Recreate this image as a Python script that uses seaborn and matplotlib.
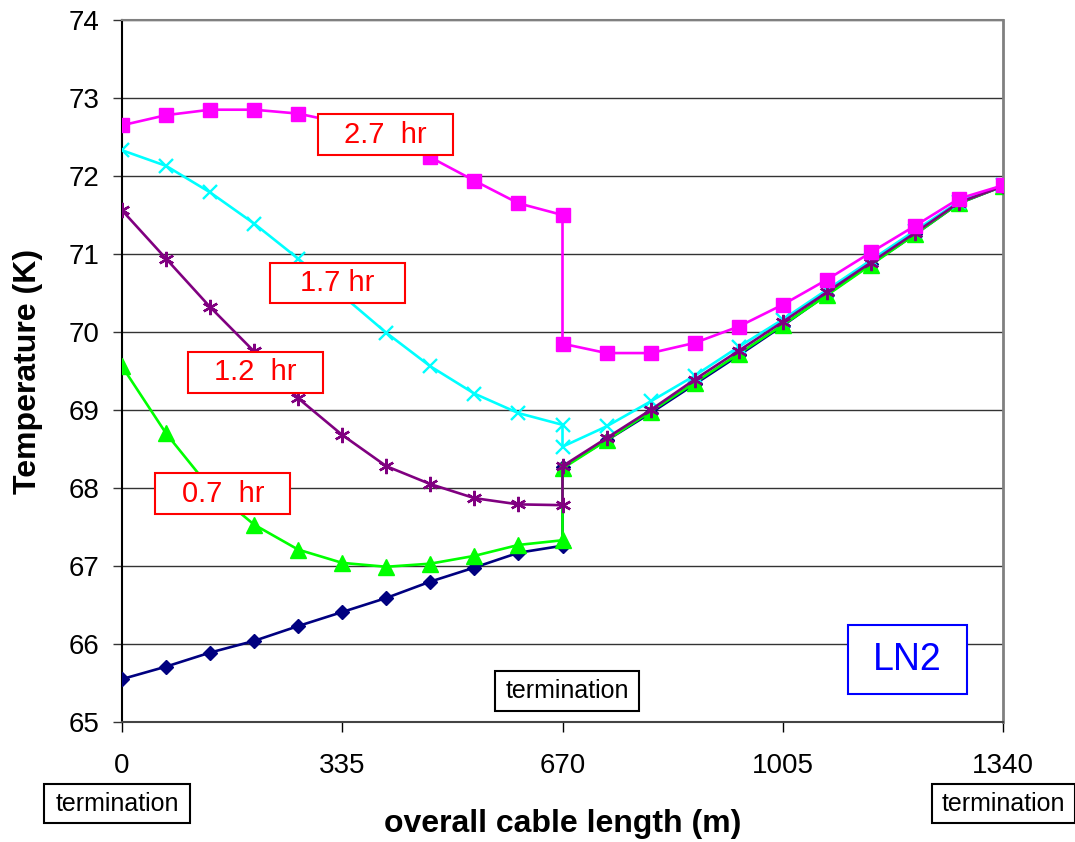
import matplotlib
matplotlib.use("Agg")
import matplotlib.pyplot as plt
from matplotlib.path import Path
import numpy as np
import pandas as pd
import seaborn as sns

sns.set_theme(style="white")
plt.rcParams["font.family"] = ["Liberation Sans", "DejaVu Sans"]

# Position along the cable (m); 670 m appears twice: the mid-cable termination
length_m = [0, 67, 134, 201, 268, 335, 402, 469, 536, 603, 670,
            670, 737, 804, 871, 938, 1005, 1072, 1139, 1206, 1273, 1340]

# LN2 temperature profiles (K)
temp_start = [65.55, 65.71, 65.89, 66.04, 66.23, 66.41, 66.59, 66.80, 66.98, 67.17, 67.26,
              68.27, 68.61, 68.96, 69.33, 69.70, 70.08, 70.48, 70.87, 71.25, 71.65, 71.87]
temp_0p7hr = [69.56, 68.70, 68.00, 67.53, 67.21, 67.04, 66.99, 67.03, 67.13, 67.27, 67.33,
              68.25, 68.61, 68.98, 69.35, 69.72, 70.09, 70.47, 70.86, 71.25, 71.65, 71.87]
temp_1p7hr = [72.33, 72.13, 71.79, 71.39, 70.94, 70.47, 69.99, 69.56, 69.21, 68.96, 68.81,
              68.53, 68.79, 69.11, 69.44, 69.81, 70.16, 70.54, 70.92, 71.30, 71.67, 71.88]
temp_1p2hr = [71.56, 70.94, 70.32, 69.75, 69.15, 68.68, 68.28, 68.05, 67.87, 67.79, 67.78,
              68.28, 68.64, 69.00, 69.39, 69.76, 70.13, 70.51, 70.89, 71.27, 71.66, 71.87]
temp_2p7hr = [72.65, 72.78, 72.85, 72.85, 72.80, 72.68, 72.50, 72.24, 71.94, 71.65, 71.50,
              69.85, 69.73, 69.73, 69.86, 70.07, 70.35, 70.67, 71.02, 71.36, 71.71, 71.88]

x_ticks = [0, 335, 670, 1005, 1340]
y_ticks = [65, 66, 67, 68, 69, 70, 71, 72, 73, 74]

runs = {
    "start": temp_start,
    "0.7 hr": temp_0p7hr,
    "1.7 hr": temp_1p7hr,
    "1.2 hr": temp_1p2hr,
    "2.7 hr": temp_2p7hr,
}
df = pd.concat(
    [pd.DataFrame({"length": length_m, "temp": t, "run": name}) for name, t in runs.items()],
    ignore_index=True,
)

# color, marker, marker size, marker edge width
styles = {
    "start": ("#000080", "D", 7.4, 1.0),
    "0.7 hr": ("#00FF00", "^", 11.0, 1.0),
    "1.7 hr": ("#00FFFF", "x", 10.5, 1.7),
    "1.2 hr": ("#800080", (6, 2, 0), 11.0, 1.7),
    "2.7 hr": ("#FF00FF", "s", 10.0, 1.0),
}

fig = plt.figure(figsize=(10.75, 8.42), dpi=100)
ax = fig.add_axes([122 / 1075, 1 - 722 / 842, 881 / 1075, 702 / 842])

for name, (color, marker, ms, mew) in styles.items():
    sns.lineplot(
        data=df[df["run"] == name], x="length", y="temp",
        estimator=None, sort=False, ax=ax, legend=False,
        color=color, linewidth=1.9, marker=marker, markersize=ms,
        markeredgewidth=mew, markeredgecolor=color, markerfacecolor=color,
        zorder=3,
    )

ax.set_xlim(0, 1340)
ax.set_ylim(65, 74)
ax.set_xticks(x_ticks)
ax.set_yticks(y_ticks)
ax.yaxis.grid(True, color="#333333", linewidth=1.0)
ax.xaxis.grid(False)
ax.set_axisbelow(True)

ax.tick_params(axis="x", direction="out", length=7, width=1, color="black",
               pad=15, labelsize=20, bottom=True, labelcolor="black")
ax.tick_params(axis="y", direction="out", length=6.5, width=1, color="#333333",
               pad=10, labelsize=20, left=True, labelcolor="black")

ax.spines["left"].set_color("black")
ax.spines["left"].set_linewidth(1.5)
ax.spines["bottom"].set_color("#444444")
ax.spines["bottom"].set_linewidth(1.5)
ax.spines["right"].set_color("#808080")
ax.spines["right"].set_linewidth(2.0)
ax.spines["top"].set_color("#808080")
ax.spines["top"].set_linewidth(1.5)

ax.set_xlabel("overall cable length (m)", fontsize=23, fontweight="bold", color="black")
ax.set_ylabel("Temperature (K)", fontsize=23, fontweight="bold", color="black")
ax.xaxis.set_label_coords(0.5, -(809 - 722) / 702)
ax.yaxis.set_label_coords((43 - 122) / 881, 0.5)


def rect_box(padx, pady):
    """Rectangular box style with separate horizontal and vertical padding."""
    def style(x0, y0, width, height, mutation_size):
        px, py = padx * mutation_size, pady * mutation_size
        xa, ya = x0 - px, y0 - py
        xb, yb = x0 + width + px, y0 + height + py
        return Path([(xa, ya), (xb, ya), (xb, yb), (xa, yb), (xa, ya)], closed=True)
    return style


def boxed(x, y, s, color, size, padx, pady, lw=1.5):
    ax.text(x, y, s, color=color, fontsize=size, ha="center", va="center",
            zorder=6, clip_on=False,
            bbox=dict(boxstyle=rect_box(padx, pady), facecolor="white",
                      edgecolor=color, linewidth=lw))


# elapsed-time labels
boxed(400.8, 72.532, "2.7  hr", "#FF0000", 21, 0.89, 0.22)
boxed(327.8, 70.628, "1.7 hr", "#FF0000", 21, 1.03, 0.22)
boxed(203.1, 69.481, "1.2  hr", "#FF0000", 21, 0.89, 0.22)
boxed(153.6, 67.929, "0.7  hr", "#FF0000", 21, 0.90, 0.22)

boxed(1194.7, 65.795, "LN2", "#0000FF", 27, 0.68, 0.44)

# terminations: mid-cable and both ends
boxed(676.8, 65.397, "termination", "black", 18, 0.4, 0.33)
boxed(-7.6, 63.95, "termination", "black", 18, 0.45, 0.3)
boxed(1340.7, 63.95, "termination", "black", 18, 0.4, 0.3)

fig.savefig("out.png", dpi=100, facecolor="white")
